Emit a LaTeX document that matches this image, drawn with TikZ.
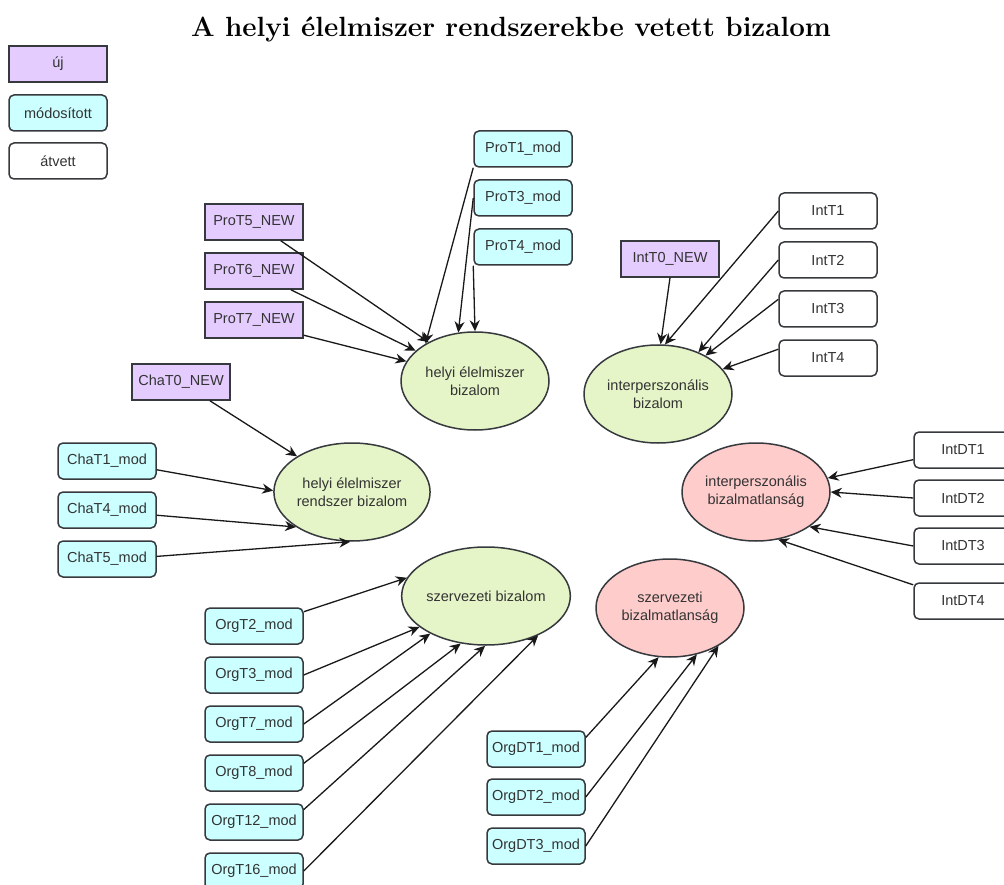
\documentclass[tikz,border=0pt]{standalone}
\usepackage{fontspec}
\setsansfont{Liberation Sans}
\usepackage{tikz}
\usetikzlibrary{arrows.meta,shapes.geometric}
\definecolor{newpurple}{RGB}{229,204,255}
\definecolor{modcyan}{RGB}{204,255,255}
\definecolor{trustgreen}{RGB}{230,245,200}
\definecolor{distrustred}{RGB}{255,204,204}
\definecolor{edgegray}{RGB}{54,57,61}

\begin{document}
\begin{tikzpicture}[
    x=1pt, y=-1pt,
    item/.style={draw=edgegray, line width=1.5pt, minimum width=98pt, minimum height=36pt,
        inner sep=0pt, font=\sffamily\fontsize{14.5}{17}\selectfont, text=black!80},
    newitem/.style={item, fill=newpurple},
    moditem/.style={item, fill=modcyan, rounded corners=5pt},
    olditem/.style={item, fill=white, rounded corners=5pt},
    factor/.style={ellipse, draw=edgegray, line width=1.5pt, minimum width=148pt,
        minimum height=98pt, inner sep=0pt, align=center,
        font=\sffamily\fontsize{14.5}{18}\selectfont, text=black!80},
    trust/.style={factor, fill=trustgreen},
    distrust/.style={factor, fill=distrustred},
    load/.style={-{Stealth[length=11pt,width=10pt]}, line width=1.3pt, draw=black!90}
]
    \path[use as bounding box, fill=white] (0,0) rectangle (1004,885);

    % title
    \node[anchor=base, font=\bfseries\fontsize{27.8}{32}\selectfont] (title) at (511,37)
        {A helyi élelmiszer rendszerekbe vetett bizalom};

    % legend
    \node[newitem] (legnew) at (58,64) {új};
    \node[moditem] (legmod) at (58,113) {módosított};
    \node[olditem] (legold) at (58,161) {átvett};

    % latent factors
    \node[trust] (hb) at (475,381) {helyi élelmiszer\\bizalom};
    \node[trust] (ib) at (658,394) {interperszonális\\bizalom};
    \node[trust] (hrb) at (352,492) {helyi élelmiszer\\rendszer bizalom};
    \node[distrust] (ibm) at (756,492) {interperszonális\\bizalmatlanság};
    \node[trust] (szb) at (486,596) {szervezeti bizalom};
    \node[distrust] (szbm) at (670,608) {szervezeti\\bizalmatlanság};

    % items: helyi elelmiszer bizalom
    \node[moditem] (ProT1) at (523,149) {ProT1\_mod};
    \node[moditem] (ProT3) at (523,198) {ProT3\_mod};
    \node[moditem] (ProT4) at (523,247) {ProT4\_mod};
    \node[newitem] (ProT5) at (254,222) {ProT5\_NEW};
    \node[newitem] (ProT6) at (254,271) {ProT6\_NEW};
    \node[newitem] (ProT7) at (254,320) {ProT7\_NEW};

    % items: interperszonalis bizalom
    \node[newitem] (IntT0) at (670,259) {IntT0\_NEW};
    \node[olditem] (IntT1) at (828,211) {IntT1};
    \node[olditem] (IntT2) at (828,260) {IntT2};
    \node[olditem] (IntT3) at (828,309) {IntT3};
    \node[olditem] (IntT4) at (828,358) {IntT4};

    % items: rendszer bizalom
    \node[newitem] (ChaT0) at (181,382) {ChaT0\_NEW};
    \node[moditem] (ChaT1) at (107,461) {ChaT1\_mod};
    \node[moditem] (ChaT4) at (107,510) {ChaT4\_mod};
    \node[moditem] (ChaT5) at (107,559) {ChaT5\_mod};

    % items: interperszonalis bizalmatlansag
    \node[olditem] (IntDT1) at (963,450) {IntDT1};
    \node[olditem] (IntDT2) at (963,498) {IntDT2};
    \node[olditem] (IntDT3) at (963,546) {IntDT3};
    \node[olditem] (IntDT4) at (963,601) {IntDT4};

    % items: szervezeti bizalom
    \node[moditem] (OrgT2) at (254,626) {OrgT2\_mod};
    \node[moditem] (OrgT3) at (254,675) {OrgT3\_mod};
    \node[moditem] (OrgT7) at (254,724) {OrgT7\_mod};
    \node[moditem] (OrgT8) at (254,773) {OrgT8\_mod};
    \node[moditem] (OrgT12) at (254,822) {OrgT12\_mod};
    \node[moditem] (OrgT16) at (254,871) {OrgT16\_mod};

    % items: szervezeti bizalmatlansag
    \node[moditem] (OrgDT1) at (536,749) {OrgDT1\_mod};
    \node[moditem] (OrgDT2) at (536,797) {OrgDT2\_mod};
    \node[moditem] (OrgDT3) at (536,846) {OrgDT3\_mod};

    % loadings
    \draw[load] (ProT1.south west) -- (hb.143);
    \draw[load] (ProT3.west) -- (hb.109);
    \draw[load] (ProT4.south west) -- (hb.90);
    \draw[load] (ProT5.-35) -- (hb.140);
    \draw[load] (ProT6.-27) -- (hb.153);
    \draw[load] (ProT7.-17) -- (hb.164);

    \draw[load] (IntT0.south) -- (ib.87);
    \draw[load] (IntT1.west) -- (ib.82);
    \draw[load] (IntT2.west) -- (ib.46);
    \draw[load] (IntT3.169) -- (ib.39);
    \draw[load] (IntT4.170) -- (ib.21);

    \draw[load] (ChaT0.-33) -- (hrb.147);
    \draw[load] (ChaT1.-10) -- (hrb.179);
    \draw[load] (ChaT4.-6) -- (hrb.212);
    \draw[load] (ChaT5.3) -- (hrb.268);

    \draw[load] (IntDT1.191) -- (ibm.11);
    \draw[load] (IntDT2.west) -- (ibm.0);
    \draw[load] (IntDT3.west) -- (ibm.327);
    \draw[load] (IntDT4.162) -- (ibm.295);

    \draw[load] (OrgT2.16) -- (szb.167);
    \draw[load] (OrgT3.east) -- (szb.205);
    \draw[load] (OrgT7.east) -- (szb.214);
    \draw[load] (OrgT8.11) -- (szb.242);
    \draw[load] (OrgT12.14) -- (szb.269);
    \draw[load] (OrgT16.east) -- (szb.323);

    \draw[load] (OrgDT1.13) -- (szbm.257);
    \draw[load] (OrgDT2.east) -- (szbm.300);
    \draw[load] (OrgDT3.east) -- (szbm.322);
\end{tikzpicture}
\end{document}
